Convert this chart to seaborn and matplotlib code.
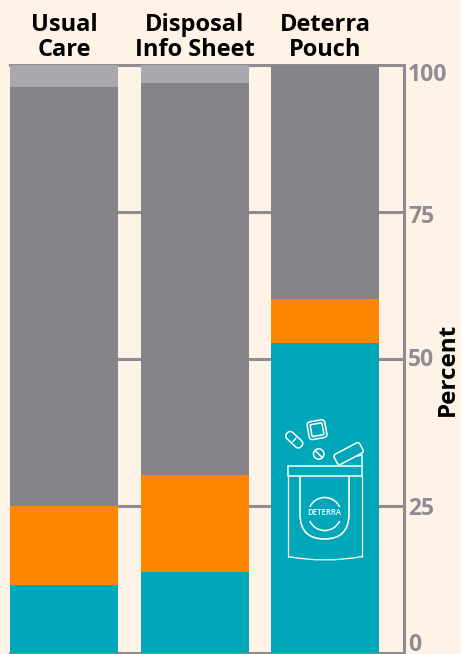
import numpy as np
import pandas as pd
import matplotlib
matplotlib.use("Agg")
import matplotlib.pyplot as plt
from matplotlib.patches import Circle, Arc, FancyBboxPatch, Rectangle, PathPatch
from matplotlib.path import Path
from matplotlib.transforms import Affine2D, ScaledTranslation
import seaborn as sb

groups = ["Usual\nCare", "Disposal\nInfo Sheet", "Deterra\nPouch"]
teal_vals = [11.6, 13.8, 52.7]
orange_vals = [13.4, 16.5, 7.5]
dark_vals = [71.3, 66.6, 39.8]
light_vals = [3.7, 3.1, 0.0]
ticks = [0, 25, 50, 75, 100]

BG = "#fff2e7"
GRID = "#8f8c92"
colors = ["#a8a9ad", "#868489", "#ff8600", "#00a7b9"]

W, H = 461, 654
sb.set_theme(style="white")
plt.rcParams["font.family"] = ["Open Sans", "DejaVu Sans"]

fig = plt.figure(figsize=(W / 100, H / 100), dpi=100, facecolor=BG)
# axes box in pixels: left 10, right 404, y=0 at 653, y=100 at 65
ax = fig.add_axes([10 / W, 1 - 653 / H, 394 / W, 588 / H], facecolor=BG)

# stacked bars: draw the cumulative heights from tallest to shortest
stack = np.cumsum([teal_vals, orange_vals, dark_vals, light_vals], axis=0)
for heights, col in zip(stack[::-1], colors):
    df = pd.DataFrame({"group": groups, "value": heights})
    sb.barplot(data=df, x="group", y="value", color=col, saturation=1,
               width=0.828, ax=ax, zorder=3, errorbar=None, linewidth=0)

ax.set_xlim(-0.414, 2.605)
ax.set_ylim(0, 100)
ax.set_xlabel("")
ax.set_ylabel("")

ax.yaxis.tick_right()
ax.set_yticks(ticks)
ax.set_yticklabels([str(t) for t in ticks], fontsize=16.5, fontweight="bold", color=GRID)
ax.tick_params(axis="y", length=0, pad=3)
# labels sit a bit off their ticks in the original, ends pulled inward
nudge = [-11, 0, -2, 2, 7]
for lab, n in zip(ax.get_yticklabels(), nudge):
    lab.set_transform(lab.get_transform() + ScaledTranslation(0, -n / 100, fig.dpi_scale_trans))
ax.grid(axis="y", color=GRID, lw=2.2, zorder=1)
ax.set_axisbelow(True)
for s in ["left", "top", "right", "bottom"]:
    ax.spines[s].set_visible(s in ("top", "right", "bottom"))
    ax.spines[s].set_color(GRID)
    ax.spines[s].set_linewidth(2.2)
    ax.spines[s].set_zorder(1)

ax.xaxis.tick_top()
ax.tick_params(axis="x", length=0, pad=2)
ax.set_xticks(range(3))
ax.set_xticklabels(groups, fontsize=17, fontweight="bold", color="black", linespacing=1.08)

fig.text(448 / W, 1 - 369 / H, "Percent", rotation=90, ha="center", va="center",
         fontsize=17.5, fontweight="bold", color="black")

# pouch icon, pixel coordinates on an overlay
ov = fig.add_axes([0, 0, 1, 1], facecolor="none")
ov.set_xlim(0, W)
ov.set_ylim(H, 0)
ov.axis("off")
ic = dict(fill=False, ec="white", lw=1.1)

ov.add_patch(Rectangle((288, 465.5), 74, 10.5, **ic))
ov.plot([288, 288], [476, 556.5], color="white", lw=0.9)
ov.plot([362, 362], [476, 556.5], color="white", lw=0.9)
ov.add_patch(PathPatch(Path([(288, 556.5), (325, 563.5), (362, 556.5)],
                            [Path.MOVETO, Path.CURVE3, Path.CURVE3]), fill=False, ec="white", lw=0.9))
ov.add_patch(PathPatch(Path([(300, 476), (300, 514), (300, 539), (324.5, 539), (349, 539), (349, 514), (349, 476)],
                            [Path.MOVETO, Path.LINETO, Path.CURVE3, Path.CURVE3, Path.CURVE3, Path.CURVE3, Path.LINETO]),
                       fill=False, ec="white", lw=1.2))
ov.add_patch(Arc((324.7, 514), 33, 33, theta1=205, theta2=335, ec="white", lw=1.1))
ov.add_patch(Arc((324.7, 514), 33, 33, theta1=25, theta2=155, ec="white", lw=1.1))
ov.text(324.7, 512.5, "DETERRA", color="white", fontsize=5.6, fontweight="semibold", ha="center", va="center")

# pills and flap
rot = lambda a, x, y: Affine2D().rotate_deg_around(x, y, a) + ov.transData
ov.add_patch(FancyBboxPatch((284.5, 435.5), 19.5, 8.5, boxstyle="round,pad=0,rounding_size=4.2",
                            transform=rot(43, 294.3, 439.7), **ic))
ov.plot([293, 296], [441.5, 438], color="white", lw=1.0)
ov.add_patch(FancyBboxPatch((308, 420.7), 18, 18, boxstyle="round,pad=0,rounding_size=3.5",
                            transform=rot(-10, 317, 429.7), **ic))
ov.add_patch(FancyBboxPatch((311, 423.7), 12, 12, boxstyle="round,pad=0,rounding_size=1",
                            transform=rot(-10, 317, 429.7), **ic))
ov.add_patch(Circle((318.7, 454), 5.2, **ic))
ov.plot([315.2, 322.2], [450.5, 457.5], color="white", lw=1.1)
ov.add_patch(FancyBboxPatch((334, 448), 29, 11.5, boxstyle="round,pad=0,rounding_size=2.5",
                            transform=rot(-28, 348.3, 453.5), **ic))
ov.plot([362, 362, 356], [465.5, 455, 456.5], color="white", lw=1.0)

fig.savefig("out.png", dpi=100, facecolor=BG)
